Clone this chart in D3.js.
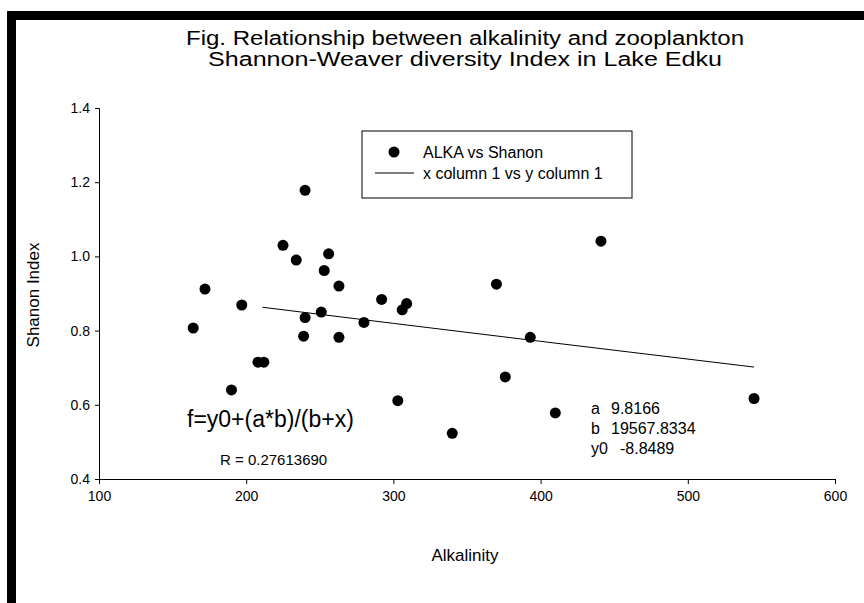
<!DOCTYPE html>
<html><head><meta charset="utf-8">
<script src="https://cdn.jsdelivr.net/npm/d3@7"></script>
<style>body{margin:0;background:#fff}text{font-family:"Liberation Sans",Arial,sans-serif}</style>
</head><body><svg id="c" width="864" height="603"></svg>
<script>
const alka = [164,172,190,197,208,212,225,234,239,240,240,251,253,256,263,263,280,292,303,306,309,340,370,376,393,410,441,545];
const shanon = [0.807,0.912,0.64,0.869,0.715,0.715,1.03,0.99,0.785,0.835,1.178,0.85,0.962,1.007,0.92,0.782,0.822,0.884,0.611,0.856,0.873,0.523,0.925,0.675,0.782,0.578,1.041,0.617];
const fitParams = {a: 9.8166, b: 19567.8334, y0: -8.8489};
const fitX = [211, 300, 400, 545];
const xTicks = [100,200,300,400,500,600];
const yTicks = [0.4,0.6,0.8,1.0,1.2,1.4];

const svg = d3.select('#c');
svg.append('rect').attr('x',7).attr('y',11).attr('width',857).attr('height',9).attr('fill','#000');
svg.append('rect').attr('x',7).attr('y',11).attr('width',9).attr('height',592).attr('fill','#000');

const x = d3.scaleLinear().domain([100,600]).range([99,835]);
const y = d3.scaleLinear().domain([0.4,1.4]).range([479,108]);

svg.append('g').attr('transform','translate(0,479)')
  .call(d3.axisBottom(x).tickValues(xTicks).tickFormat(d3.format('d')).tickSize(5).tickPadding(7))
  .call(g => g.selectAll('text').attr('font-size',14).attr('fill','#000'));
svg.append('g').attr('transform','translate(99,0)')
  .call(d3.axisLeft(y).tickValues(yTicks).tickFormat(d3.format('.1f')).tickSize(4).tickPadding(5))
  .call(g => g.selectAll('text').attr('font-size',14).attr('fill','#000'));
svg.selectAll('.domain, .tick line').attr('stroke','#000');

const f = v => fitParams.y0 + fitParams.a*fitParams.b/(fitParams.b+v);
svg.append('path').attr('fill','none').attr('stroke','#000').attr('stroke-width',1)
  .attr('d', d3.line().x(d => x(d)).y(d => y(f(d)))(fitX));

svg.append('g').selectAll('circle').data(alka).enter().append('circle')
  .attr('cx', d => x(d)).attr('cy', (d,i) => y(shanon[i])).attr('r',5.5).attr('fill','#000');

svg.append('text').attr('x',186).attr('y',45).attr('font-size',20)
  .attr('textLength',558).attr('lengthAdjust','spacingAndGlyphs')
  .text('Fig.  Relationship between alkalinity and zooplankton');
svg.append('text').attr('x',208).attr('y',66).attr('font-size',20)
  .attr('textLength',514).attr('lengthAdjust','spacingAndGlyphs')
  .text('Shannon-Weaver diversity Index in Lake Edku');

svg.append('text').attr('transform','translate(39,295) rotate(-90)').attr('text-anchor','middle')
  .attr('font-size',17).text('Shanon Index');
svg.append('text').attr('x',465).attr('y',561).attr('text-anchor','middle').attr('font-size',17).text('Alkalinity');

svg.append('rect').attr('x',362).attr('y',131).attr('width',270).attr('height',67)
  .attr('fill','#fff').attr('stroke','#000');
svg.append('circle').attr('cx',394).attr('cy',152).attr('r',5.5).attr('fill','#000');
svg.append('text').attr('x',423).attr('y',158).attr('font-size',16).text('ALKA vs Shanon');
svg.append('line').attr('x1',375).attr('x2',414).attr('y1',173).attr('y2',173).attr('stroke','#000');
svg.append('text').attr('x',423).attr('y',179).attr('font-size',16).text('x column 1 vs y column 1');

svg.append('text').attr('x',187).attr('y',427).attr('font-size',23).text('f=y0+(a*b)/(b+x)');
svg.append('text').attr('x',220).attr('y',465).attr('font-size',15).text('R = 0.27613690');
const params = [['a','9.8166'],['b','19567.8334'],['y0','-8.8489']];
params.forEach((p,i) => {
  svg.append('text').attr('x',591).attr('y',414+i*20).attr('font-size',16).text(p[0]);
  svg.append('text').attr('x',p[0]==='y0'?620:611).attr('y',414+i*20).attr('font-size',16).text(p[1]);
});
</script></body></html>
